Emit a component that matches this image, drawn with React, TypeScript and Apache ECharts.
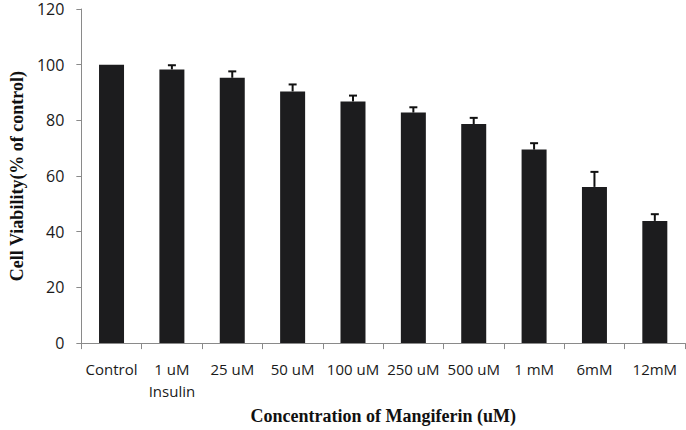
import React, { useEffect, useRef } from "react";
import * as echarts from "echarts";

const categories = ["Control", "1 uM\nInsulin", "25 uM", "50 uM", "100 uM", "250 uM", "500 uM", "1 mM", "6mM", "12mM"];
const viability = [100, 98.3, 95.3, 90.4, 86.8, 82.8, 78.7, 69.5, 56.1, 43.9];
const errors = [0, 1.5, 2.3, 2.5, 2.1, 1.9, 2.2, 2.3, 5.4, 2.4];
const yTicks = { min: 0, max: 120, interval: 20 };

export default function App() {
  const ref = useRef<HTMLDivElement>(null);
  useEffect(() => {
    if (!ref.current) return;
    const chart = echarts.init(ref.current, null, { renderer: "svg" });
    const errData = viability.map((v, i) => [i, v, v + errors[i]]);
    chart.setOption({
      animation: false,
      grid: { left: 55, right: 1, top: 9, bottom: 83, containLabel: false },
      xAxis: {
        type: "category",
        data: categories,
        axisLine: { lineStyle: { color: "#8a8a8a", width: 1 } },
        axisTick: { show: true, length: 6, lineStyle: { color: "#8a8a8a" } },
        axisLabel: {
          interval: 0,
          margin: 15,
          color: "#1a1a1a",
          fontFamily: "Open Sans",
          fontSize: 15,
          lineHeight: 22,
        },
        name: "Concentration of Mangiferin (uM)",
        nameLocation: "middle",
        nameGap: 50,
        nameTextStyle: {
          fontFamily: "Liberation Serif",
          fontWeight: "bold",
          fontSize: 18,
          color: "#111",
          verticalAlign: "top",
        },
      },
      yAxis: {
        type: "value",
        min: yTicks.min,
        max: yTicks.max,
        interval: yTicks.interval,
        splitLine: { show: false },
        axisLine: { show: true, lineStyle: { color: "#8a8a8a", width: 1 } },
        axisTick: { show: true, length: 5, lineStyle: { color: "#8a8a8a" } },
        axisLabel: {
          margin: 17,
          color: "#1a1a1a",
          fontFamily: "Open Sans",
          fontSize: 16,
          lineHeight: 14,
        },
        name: "Cell Viability(% of control)",
        nameLocation: "middle",
        nameGap: 46,
        nameTextStyle: {
          fontFamily: "Liberation Serif",
          fontWeight: "bold",
          fontSize: 18,
          color: "#111",
        },
      },
      series: [
        {
          type: "bar",
          data: viability,
          barWidth: 25,
          itemStyle: { color: "#1c1c1e" },
        },
        {
          type: "custom",
          data: errData,
          z: 3,
          renderItem: (params: any, api: any) => {
            const idx = api.value(0);
            const low = api.coord([idx, api.value(1)]);
            const high = api.coord([idx, api.value(2)]);
            if (Math.abs(high[1] - low[1]) < 0.5) return { type: "group", children: [] };
            const style = { stroke: "#111", lineWidth: 2 };
            return {
              type: "group",
              children: [
                { type: "line", shape: { x1: low[0], y1: low[1], x2: high[0], y2: high[1] }, style },
                { type: "line", shape: { x1: high[0] - 4, y1: high[1], x2: high[0] + 4, y2: high[1] }, style },
              ],
            };
          },
        },
      ],
    });
    return () => chart.dispose();
  }, []);
  return <div ref={ref} style={{ width: 686, height: 430, position: "absolute", left: 0, top: 0 }} />;
}
